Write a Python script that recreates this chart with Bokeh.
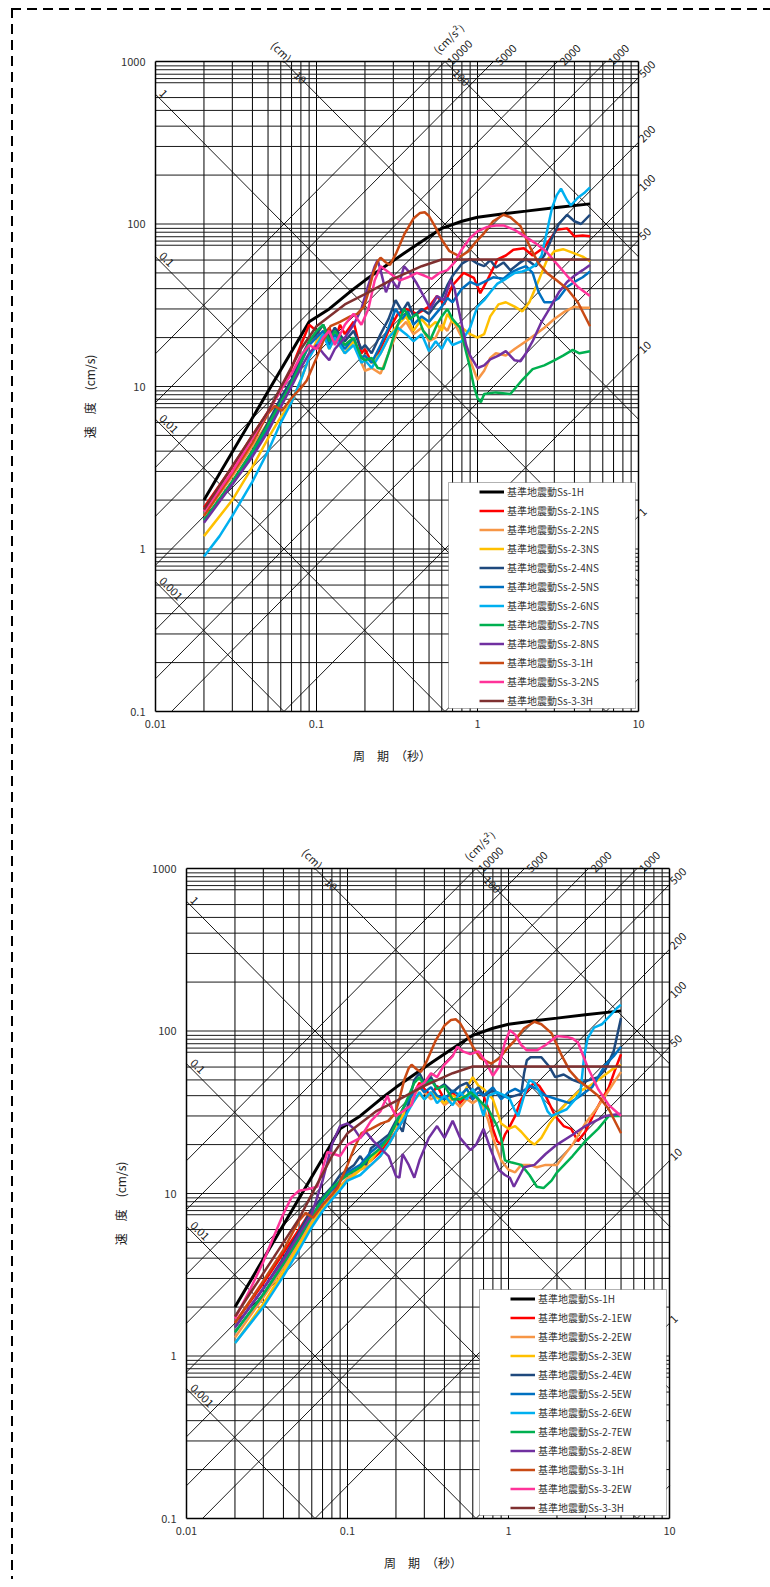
import math
from bokeh.plotting import figure
from bokeh.models import (Range1d, FixedTicker, Label, Legend, LegendItem, BoxAnnotation, Div)
from bokeh.embed import file_html
from bokeh.resources import INLINE

FONT = "Noto Sans CJK JP"

# ---------------- axes / grid data ----------------
period_ticks = [0.01, 0.1, 1, 10]
period_tick_labels = ["0.01", "0.1", "1", "10"]
velocity_ticks = [0.1, 1, 10, 100, 1000]
velocity_tick_labels = ["0.1", "1", "10", "100", "1000"]
grid_multipliers_x = [1, 2, 3, 4, 5, 6, 7, 8, 9]
grid_multipliers_y = [1, 2, 3, 4, 5, 6, 7.4, 7.85, 8.35, 8.9, 9.4]
displacement_values = [0.001, 0.01, 0.1, 1, 10, 100]          # cm
displacement_left_labels = [0.001, 0.01, 0.1, 1]
displacement_top_labels = [10, 100]
acceleration_values = [0.1, 1, 10, 50, 100, 200, 500, 1000, 2000, 5000, 10000]  # cm/s2
acceleration_top_labels = [10000, 5000, 2000, 1000]
acceleration_right_labels = [500, 200, 100, 50, 10, 1]

# ---------------- series (common to both directions) ----------------
ss1h_T = [0.02, 0.09, 0.12, 0.16, 0.2, 0.26, 0.35, 0.45, 0.6, 0.8, 1.0, 1.5, 2.0, 3.0, 5.0]
ss1h_V = [2.0, 25, 30, 38, 45, 54, 66, 78, 94, 104, 110, 116, 120, 126, 133]

ss31h_T = [0.02, 0.03, 0.04, 0.05, 0.055, 0.061, 0.07, 0.08, 0.087, 0.1, 0.11, 0.122, 0.14, 0.162, 0.18,
           0.197, 0.21, 0.225, 0.24, 0.25, 0.27, 0.286, 0.31, 0.35, 0.4, 0.44, 0.47, 0.5, 0.55, 0.6,
           0.67, 0.78, 0.88, 0.98, 1.1, 1.25, 1.45, 1.6, 1.85, 2.15, 2.4, 2.7, 3.1, 3.6, 4.2, 5.0]
ss31h_V = [1.6, 2.9, 4.5, 6.8, 7.6, 7.1, 8.5, 9.8, 10.9, 15, 19, 23.5, 25, 27, 28,
           31, 38, 50, 59, 62, 58, 56, 65, 86, 108, 117, 118, 112, 95, 80,
           68, 63, 68, 78, 88, 104, 114, 110, 97, 70, 57, 50, 45, 40, 33, 23.5]

ss33h_T = [0.02, 0.05, 0.08, 0.1, 0.15, 0.2, 0.3, 0.45, 0.6, 5.0]
ss33h_V = [1.75, 7, 17, 23.5, 32, 37, 46, 55, 60.5, 60.5]

# ---------------- NS series ----------------
ns21_T = [0.02, 0.03, 0.04, 0.05, 0.06, 0.07, 0.08, 0.09, 0.1, 0.11, 0.12, 0.13, 0.14, 0.15, 0.17, 0.19, 0.2,
          0.22, 0.25, 0.28, 0.32, 0.36, 0.42, 0.5, 0.56, 0.62, 0.7, 0.82, 0.95, 1.04, 1.15, 1.33, 1.5, 1.67,
          1.94, 2.2, 2.6, 3.1, 3.6, 4.0, 4.5, 5.0]
ns21_V = [1.8, 3.2, 5.0, 7.0, 9.5, 13, 18, 24, 22, 20, 23, 19, 24, 21, 25, 16, 17,
          14, 17, 22, 28, 30, 28, 31, 36, 32, 42, 50, 46.6, 37.5, 45, 60.5, 64, 69.5,
          71, 64, 72, 92, 94, 84, 85, 84]

ns22_T = [0.02, 0.03, 0.04, 0.05, 0.06, 0.07, 0.08, 0.09, 0.1, 0.11, 0.12, 0.13, 0.15, 0.17, 0.19, 0.2, 0.22,
          0.25, 0.28, 0.32, 0.36, 0.4, 0.45, 0.5, 0.55, 0.6, 0.65, 0.7, 0.8, 0.9, 1.0, 1.1, 1.2, 1.3, 1.5,
          1.7, 2.0, 2.3, 2.6, 3.0, 3.5, 4.0, 4.5, 5.0]
ns22_V = [1.6, 2.8, 4.3, 6.0, 8.0, 10.5, 14, 18, 21, 24, 19, 22, 18, 20, 14, 12.5, 13,
          12, 16, 22, 25, 21, 23, 19, 20, 24, 22, 26, 20, 14.5, 11, 12.5, 15, 16, 15.5,
          17, 19, 21, 23, 26, 29, 31, 30.5, 30.5]

ns23_T = [0.02, 0.03, 0.04, 0.05, 0.06, 0.07, 0.08, 0.09, 0.1, 0.11, 0.12, 0.13, 0.15, 0.17, 0.19, 0.2, 0.22,
          0.25, 0.28, 0.32, 0.36, 0.4, 0.45, 0.5, 0.55, 0.6, 0.65, 0.7, 0.8, 0.9, 1.0, 1.1, 1.2, 1.35, 1.5,
          1.7, 1.9, 2.1, 2.4, 2.7, 3.0, 3.4, 4.0, 4.5, 5.0]
ns23_V = [1.2, 2.0, 3.2, 4.8, 6.5, 8.0, 11, 15, 19, 22, 17, 20, 16, 19, 15, 15.5, 14,
          16, 20, 24, 27, 22, 26, 23, 25, 22, 28, 25, 23, 21, 20, 21, 27, 32, 33,
          31, 29, 33, 45, 60, 68, 70, 66, 63, 59]

ns24_T = [0.02, 0.03, 0.04, 0.05, 0.06, 0.07, 0.08, 0.09, 0.1, 0.11, 0.12, 0.13, 0.15, 0.17, 0.19, 0.2, 0.22,
          0.25, 0.28, 0.31, 0.34, 0.37, 0.4, 0.45, 0.5, 0.55, 0.6, 0.65, 0.7, 0.8, 0.9, 1.0, 1.1, 1.2, 1.3,
          1.45, 1.6, 1.8, 2.0, 2.3, 2.6, 2.9, 3.2, 3.6, 4.0, 4.4, 5.0]
ns24_V = [1.5, 2.6, 4.0, 6.0, 8.5, 11, 15, 19, 21, 24, 20, 23, 19, 22, 17, 18, 16,
          21, 26, 34, 29, 33, 27, 30, 28, 32, 35, 42, 48, 57, 61, 57, 55, 60, 54,
          58, 52, 57, 61, 55, 64, 82, 100, 114, 104, 100, 114]

ns25_T = [0.02, 0.03, 0.04, 0.05, 0.06, 0.07, 0.08, 0.09, 0.1, 0.11, 0.12, 0.13, 0.15, 0.17, 0.19, 0.2, 0.22,
          0.25, 0.28, 0.31, 0.34, 0.37, 0.4, 0.45, 0.5, 0.55, 0.6, 0.65, 0.7, 0.8, 0.9, 1.0, 1.1, 1.25, 1.45,
          1.6, 1.8, 2.0, 2.2, 2.4, 2.6, 2.9, 3.2, 3.6, 4.0, 4.5, 5.0]
ns25_V = [1.5, 2.5, 3.8, 5.5, 7.8, 10.5, 14, 18, 20, 22, 18, 21, 17, 20, 15, 15.5, 14,
          18, 23, 30, 26, 29, 24, 27, 25, 28, 31, 35, 33, 40, 44, 42, 44, 47, 46,
          50, 53, 55, 50, 38, 33, 33, 35, 41, 44, 47, 51]

ns26_T = [0.02, 0.025, 0.03, 0.04, 0.05, 0.06, 0.07, 0.08, 0.09, 0.1, 0.11, 0.12, 0.13, 0.15, 0.17, 0.19, 0.2,
          0.22, 0.25, 0.28, 0.32, 0.36, 0.4, 0.45, 0.5, 0.55, 0.6, 0.65, 0.7, 0.8, 0.9, 0.95, 1.0, 1.1, 1.2,
          1.33, 1.5, 1.7, 1.9, 2.1, 2.3, 2.5, 2.7, 2.9, 3.1, 3.3, 3.6, 3.8, 4.2, 4.6, 5.0]
ns26_V = [0.9, 1.2, 1.6, 2.6, 4.0, 6.0, 8.0, 11, 15, 18, 21, 17, 20, 16, 18, 14, 14.5,
          13, 16, 20, 23, 21, 19, 21, 16.5, 19, 17, 20, 18, 19, 23, 27, 31, 34, 38,
          43, 46, 50, 51, 53, 56, 64, 90, 125, 150, 165, 140, 130, 145, 155, 168]

ns27_T = [0.02, 0.03, 0.04, 0.05, 0.06, 0.07, 0.08, 0.09, 0.1, 0.11, 0.12, 0.13, 0.15, 0.17, 0.19, 0.2, 0.22,
          0.24, 0.26, 0.28, 0.3, 0.32, 0.35, 0.38, 0.42, 0.46, 0.51, 0.56, 0.6, 0.65, 0.7, 0.78, 0.84, 0.9,
          0.95, 1.0, 1.05, 1.1, 1.3, 1.6, 1.9, 2.2, 2.6, 3.0, 3.4, 3.9, 4.3, 5.0]
ns27_V = [1.5, 2.6, 4.0, 5.8, 8.0, 10.5, 14, 19, 22, 24, 19, 22, 18, 20, 15, 14.5, 15,
          13, 12.8, 16, 20, 24, 30, 26, 28, 22, 19.5, 24, 27, 30, 26, 23, 17, 13,
          10, 8.5, 8.0, 9, 9.2, 9, 11, 12.8, 13.5, 14.5, 15.5, 16.8, 16, 16.5]

ns28_T = [0.02, 0.03, 0.04, 0.05, 0.06, 0.07, 0.08, 0.09, 0.1, 0.11, 0.12, 0.13, 0.15, 0.17, 0.19, 0.21, 0.23,
          0.24, 0.25, 0.27, 0.29, 0.32, 0.35, 0.38, 0.42, 0.47, 0.51, 0.56, 0.62, 0.68, 0.72, 0.78, 0.85, 0.9,
          1.0, 1.1, 1.2, 1.35, 1.5, 1.7, 1.85, 2.0, 2.2, 2.5, 2.85, 3.2, 3.6, 4.0, 4.5, 5.0]
ns28_V = [1.45, 2.5, 3.7, 5.3, 7.5, 10, 13, 16, 18, 16, 14.5, 17, 20, 24, 30, 42, 55,
          60, 52, 38, 46, 40, 55, 50, 43, 35, 30, 36, 34, 45, 40, 27, 18, 15.5,
          13, 13.5, 14.7, 15.5, 16.5, 14.5, 14.3, 16, 19, 25, 31, 38, 44, 48, 52, 56]

ns32_T = [0.02, 0.03, 0.04, 0.05, 0.06, 0.07, 0.08, 0.09, 0.1, 0.11, 0.12, 0.13, 0.15, 0.17, 0.19, 0.21, 0.23,
          0.25, 0.27, 0.3, 0.33, 0.37, 0.42, 0.47, 0.52, 0.58, 0.65, 0.72, 0.8, 0.9, 1.0, 1.15, 1.3, 1.45,
          1.7, 2.0, 2.3, 2.7, 3.1, 3.6, 4.2, 5.0]
ns32_V = [1.7, 3.0, 4.8, 7.0, 9.5, 12, 15.5, 18, 17, 20, 22, 18, 24, 28, 24, 30, 45,
          55, 52, 48, 45, 47, 50, 48, 46, 50, 52, 58, 70, 82, 90, 96, 98, 98,
          92, 83, 76, 67, 57, 48, 41, 36]

# ---------------- EW series ----------------
ew21_T = [0.02, 0.03, 0.04, 0.05, 0.06, 0.07, 0.08, 0.09, 0.1, 0.11, 0.12, 0.14, 0.16, 0.18, 0.2, 0.22, 0.24,
          0.26, 0.28, 0.3, 0.33, 0.36, 0.4, 0.45, 0.5, 0.55, 0.6, 0.65, 0.7, 0.75, 0.8, 0.85, 0.9, 0.95, 1.0,
          1.1, 1.2, 1.35, 1.45, 1.55, 1.7, 1.95, 2.2, 2.45, 2.7, 3.0, 3.4, 3.8, 4.2, 4.6, 5.0]
ew21_V = [1.6, 2.8, 4.3, 6.0, 8.0, 9.5, 10, 12, 14, 13, 14.5, 16, 18, 21, 24, 28, 35,
          42, 48, 44, 40, 46, 38, 42, 36, 40, 38, 42, 40, 33, 25, 21, 20, 23, 25,
          30, 38, 45, 48, 46, 40, 30, 26, 25, 21, 24, 31, 38, 45, 58, 72]

ew22_T = [0.02, 0.03, 0.04, 0.05, 0.06, 0.07, 0.08, 0.09, 0.1, 0.12, 0.14, 0.16, 0.18, 0.2, 0.22, 0.25, 0.28,
          0.3, 0.33, 0.36, 0.4, 0.45, 0.5, 0.55, 0.6, 0.65, 0.7, 0.75, 0.8, 0.9, 1.0, 1.1, 1.2, 1.35, 1.5,
          1.7, 2.0, 2.2, 2.5, 3.0, 3.5, 4.0, 4.5, 5.0]
ew22_V = [1.3, 2.3, 3.5, 5.0, 6.8, 8.5, 10, 11, 12.5, 14, 15, 17, 20, 24, 30, 38, 45,
          42, 38, 40, 35, 38, 34, 38, 36, 38, 34, 28, 22, 16, 14, 13.5, 15, 15, 14.5,
          15, 15, 17, 20, 27, 33, 40, 48, 56]

ew23_T = [0.02, 0.03, 0.04, 0.05, 0.06, 0.07, 0.08, 0.09, 0.1, 0.12, 0.14, 0.16, 0.18, 0.2, 0.22, 0.25, 0.28,
          0.3, 0.33, 0.36, 0.4, 0.45, 0.5, 0.55, 0.6, 0.65, 0.7, 0.8, 0.9, 1.0, 1.1, 1.2, 1.35, 1.45, 1.6,
          1.8, 2.0, 2.3, 2.7, 3.2, 3.8, 4.4, 5.0]
ew23_V = [1.2, 2.1, 3.3, 4.8, 6.5, 8.0, 9.5, 11, 12, 14, 16, 19, 22, 26, 30, 36, 41,
          38, 42, 39, 36, 40, 38, 45, 52, 46, 44, 38, 27, 25, 26, 24, 21, 20, 22,
          27, 31, 36, 42, 46, 52, 58, 62]

ew24_T = [0.02, 0.03, 0.04, 0.05, 0.06, 0.07, 0.08, 0.09, 0.1, 0.11, 0.12, 0.13, 0.14, 0.16, 0.18, 0.2, 0.22,
          0.24, 0.26, 0.28, 0.3, 0.33, 0.36, 0.4, 0.45, 0.5, 0.55, 0.6, 0.65, 0.7, 0.8, 0.9, 1.0, 1.1, 1.2,
          1.25, 1.3, 1.37, 1.6, 1.8, 1.95, 2.2, 2.5, 2.8, 3.2, 3.6, 4.0, 4.5, 5.0]
ew24_V = [1.5, 2.6, 4.0, 5.8, 8.0, 9.5, 11, 13, 14, 15, 17, 15, 19, 21, 23, 28, 24,
          36, 50, 55, 48, 52, 44, 47, 42, 46, 48, 42, 45, 40, 43, 40, 39, 40, 41,
          55, 66, 69, 69, 60, 52, 54, 50, 48, 50, 52, 58, 75, 120]

ew25_T = [0.02, 0.03, 0.04, 0.05, 0.06, 0.07, 0.08, 0.09, 0.1, 0.12, 0.14, 0.16, 0.18, 0.2, 0.22, 0.25, 0.28,
          0.3, 0.33, 0.36, 0.4, 0.45, 0.5, 0.55, 0.6, 0.65, 0.7, 0.8, 0.9, 1.0, 1.1, 1.2, 1.37, 1.5, 1.7,
          2.0, 2.4, 2.8, 3.3, 4.0, 4.5, 5.0]
ew25_V = [1.4, 2.4, 3.7, 5.3, 7.2, 9.0, 10.5, 12, 13.5, 15, 18, 20, 22, 27, 33, 40, 46,
          42, 45, 40, 38, 43, 40, 44, 38, 42, 40, 45, 38, 42, 44, 42, 46, 44, 40,
          38, 36, 40, 45, 62, 70, 80]

ew26_T = [0.02, 0.03, 0.04, 0.05, 0.06, 0.07, 0.08, 0.09, 0.1, 0.12, 0.14, 0.16, 0.18, 0.2, 0.22, 0.25, 0.28,
          0.3, 0.33, 0.36, 0.4, 0.45, 0.5, 0.55, 0.6, 0.65, 0.7, 0.75, 0.85, 0.95, 1.02, 1.1, 1.15, 1.25, 1.35,
          1.45, 1.6, 1.75, 1.85, 2.0, 2.3, 2.6, 2.8, 2.95, 3.1, 3.4, 3.8, 4.3, 4.7, 5.0]
ew26_V = [1.2, 2.0, 3.1, 4.5, 6.2, 7.8, 9.2, 10.5, 12, 13, 15, 17, 20, 24, 28, 35, 42,
          38, 42, 36, 40, 35, 42, 38, 44, 38, 30, 40, 42, 40, 38, 32, 30, 40, 50,
          48, 40, 32, 30, 31, 33, 38, 42, 70, 90, 105, 110, 125, 138, 145]

ew27_T = [0.02, 0.03, 0.04, 0.05, 0.06, 0.07, 0.08, 0.09, 0.1, 0.12, 0.14, 0.16, 0.18, 0.2, 0.22, 0.24, 0.26,
          0.28, 0.3, 0.33, 0.36, 0.4, 0.45, 0.5, 0.55, 0.58, 0.65, 0.75, 0.85, 0.9, 0.95, 1.05, 1.2, 1.35,
          1.5, 1.65, 1.85, 2.0, 2.5, 3.0, 3.6, 4.2, 5.0]
ew27_V = [1.4, 2.4, 3.7, 5.3, 7.3, 9.2, 10.8, 12, 13, 14.5, 17, 19, 22, 27, 33, 40, 48,
          52, 46, 50, 44, 46, 38, 38, 40, 42, 38, 33, 26, 22, 16, 15.5, 15, 13,
          11, 10.8, 12, 13.5, 17, 21, 25, 30, 30]

ew28_T = [0.02, 0.03, 0.04, 0.05, 0.06, 0.07, 0.08, 0.09, 0.1, 0.11, 0.12, 0.13, 0.145, 0.16, 0.18, 0.2, 0.21,
          0.22, 0.24, 0.26, 0.28, 0.32, 0.36, 0.4, 0.45, 0.5, 0.58, 0.63, 0.7, 0.77, 0.87, 0.95, 1.02, 1.08,
          1.25, 1.45, 1.7, 2.0, 2.5, 3.0, 4.0, 5.0]
ew28_V = [1.5, 2.6, 3.9, 5.6, 7.5, 12, 20, 26, 27, 25, 22, 24, 21, 19, 17, 12.8, 12.5,
          17.5, 15, 12.5, 16, 22, 26, 22, 28, 22, 18.5, 20, 25, 19, 14, 13, 12.5, 11,
          14.5, 15, 17.5, 20, 23, 26, 30, 31]

ew32_T = [0.02, 0.025, 0.03, 0.035, 0.04, 0.045, 0.05, 0.056, 0.065, 0.075, 0.09, 0.1, 0.12, 0.14, 0.16,
          0.177, 0.19, 0.2, 0.22, 0.25, 0.27, 0.3, 0.33, 0.36, 0.4, 0.45, 0.48, 0.52, 0.58, 0.65, 0.72, 0.8,
          0.87, 0.95, 1.02, 1.1, 1.2, 1.3, 1.5, 1.7, 2.0, 2.3, 2.5, 2.7, 3.1, 3.6, 4.2, 5.0]
ew32_V = [1.7, 2.6, 3.8, 5.5, 7.5, 9.5, 10.4, 10.6, 11, 18, 17, 20, 22, 28, 32,
          40, 33, 30, 32, 35, 45, 48, 55, 52, 62, 70, 80, 75, 72, 75, 65, 53,
          60, 85, 101, 95, 82, 76, 76, 82, 93, 92, 90, 85, 60, 44, 35, 30]

# ---------------- legend names / colors ----------------
names_ns = ["基準地震動Ss-1H", "基準地震動Ss-2-1NS", "基準地震動Ss-2-2NS", "基準地震動Ss-2-3NS",
            "基準地震動Ss-2-4NS", "基準地震動Ss-2-5NS", "基準地震動Ss-2-6NS", "基準地震動Ss-2-7NS",
            "基準地震動Ss-2-8NS", "基準地震動Ss-3-1H", "基準地震動Ss-3-2NS", "基準地震動Ss-3-3H"]
names_ew = ["基準地震動Ss-1H", "基準地震動Ss-2-1EW", "基準地震動Ss-2-2EW", "基準地震動Ss-2-3EW",
            "基準地震動Ss-2-4EW", "基準地震動Ss-2-5EW", "基準地震動Ss-2-6EW", "基準地震動Ss-2-7EW",
            "基準地震動Ss-2-8EW", "基準地震動Ss-3-1H", "基準地震動Ss-3-2EW", "基準地震動Ss-3-3H"]
colors = ["#000000", "#FF0000", "#F79646", "#FFC000", "#1F497D", "#0070C0",
          "#00B0F0", "#00B050", "#7030A0", "#C94A14", "#FF3399", "#7F3030"]

series_ns = [(ss1h_T, ss1h_V), (ns21_T, ns21_V), (ns22_T, ns22_V), (ns23_T, ns23_V), (ns24_T, ns24_V),
             (ns25_T, ns25_V), (ns26_T, ns26_V), (ns27_T, ns27_V), (ns28_T, ns28_V), (ss31h_T, ss31h_V),
             (ns32_T, ns32_V), (ss33h_T, ss33h_V)]
series_ew = [(ss1h_T, ss1h_V), (ew21_T, ew21_V), (ew22_T, ew22_V), (ew23_T, ew23_V), (ew24_T, ew24_V),
             (ew25_T, ew25_V), (ew26_T, ew26_V), (ew27_T, ew27_V), (ew28_T, ew28_V), (ss31h_T, ss31h_V),
             (ew32_T, ew32_V), (ss33h_T, ss33h_V)]

TWO_PI = 2 * math.pi
XMIN, XMAX, YMIN, YMAX = 0.01, 10.0, 0.1, 1000.0
CW, CH = 483, 650            # chart box size (px)
# frame extension around the chart box (px); left/bottom extensions centre the axis titles
EXT_L, EXT_B, EXT_R, EXT_T = 34, 56, 24, 36
DASH_V = "repeating-linear-gradient(to bottom, #000 0px, #000 10px, transparent 10px, transparent 16px)"
DASH_H = "repeating-linear-gradient(to right, #000 0px, #000 10px, transparent 10px, transparent 16px)"


def fmt(v):
    return "%g" % v


def px_T(px):
    return XMIN * 10 ** (px * 3.0 / CW)


def px_V(py):
    return YMAX * 10 ** (-py * 4.0 / CH)


def make_chart(series, names, b_left, b_top, fig_h, total_w):
    fw = EXT_L + CW + EXT_R
    fh = EXT_B + CH + EXT_T
    p = figure(x_axis_type="log", y_axis_type="log",
               x_range=Range1d(px_T(-EXT_L), px_T(CW + EXT_R)),
               y_range=Range1d(px_V(CH + EXT_B), px_V(-EXT_T)),
               frame_width=fw, frame_height=fh,
               min_border_left=b_left, min_border_right=total_w - b_left - fw,
               min_border_top=b_top, min_border_bottom=fig_h - b_top - fh,
               toolbar_location=None, output_backend="svg")
    p.border_fill_color = None
    p.background_fill_color = None
    p.outline_line_color = None
    p.xgrid.visible = False
    p.ygrid.visible = False

    # axes
    p.xaxis.ticker = FixedTicker(ticks=period_ticks, minor_ticks=[])
    p.yaxis.ticker = FixedTicker(ticks=velocity_ticks, minor_ticks=[])
    p.xaxis.major_label_overrides = {t: s for t, s in zip(period_ticks, period_tick_labels)}
    p.yaxis.major_label_overrides = {t: s for t, s in zip(velocity_ticks, velocity_tick_labels)}
    for ax in (p.xaxis[0], p.yaxis[0]):
        ax.axis_line_color = None
        ax.major_tick_line_color = None
        ax.minor_tick_line_color = None
        ax.major_tick_out = 0
        ax.major_tick_in = 0
        ax.minor_tick_out = 0
        ax.minor_tick_in = 0
        ax.major_label_text_font = FONT
        ax.major_label_text_font_size = "11px"
        ax.major_label_text_color = "#333333"
        ax.axis_label_text_font = FONT
        ax.axis_label_text_font_size = "12px"
        ax.axis_label_text_font_style = "normal"
        ax.axis_label_text_color = "#222222"
    p.xaxis.major_label_standoff = 8 - EXT_B
    p.yaxis.major_label_standoff = 10 - EXT_L
    p.xaxis.axis_label = "周\u3000期\u3000（秒）"
    p.xaxis.axis_label_standoff = 16
    p.yaxis.axis_label = "速\u3000度\u3000(cm/s)"
    p.yaxis.axis_label_standoff = 20
    p.yaxis.major_label_orientation = "horizontal"

    # white chart area
    p.quad(left=[XMIN], right=[XMAX], bottom=[YMIN], top=[YMAX], fill_color="white", line_color=None)

    # log grid
    xs = [m * 10.0 ** e for e in (-2, -1, 0) for m in grid_multipliers_x if m * 10.0 ** e > XMIN]
    ys = [m * 10.0 ** e for e in (-1, 0, 1, 2) for m in grid_multipliers_y if m * 10.0 ** e > YMIN]
    p.segment(x0=xs, x1=xs, y0=[YMIN] * len(xs), y1=[YMAX] * len(xs), line_color="#000000", line_width=1)
    p.segment(x0=[XMIN] * len(ys), x1=[XMAX] * len(ys), y0=ys, y1=ys, line_color="#1a1a1a", line_width=1)

    # tripartite diagonals (clipped to chart box)
    x0, x1, y0, y1 = [], [], [], []
    for d in displacement_values:
        lo, hi = max(XMIN, TWO_PI * d / YMAX), min(XMAX, TWO_PI * d / YMIN)
        if lo < hi:
            x0.append(lo); x1.append(hi); y0.append(TWO_PI * d / lo); y1.append(TWO_PI * d / hi)
    for a in acceleration_values:
        lo, hi = max(XMIN, TWO_PI * YMIN / a), min(XMAX, TWO_PI * YMAX / a)
        if lo < hi:
            x0.append(lo); x1.append(hi); y0.append(a * lo / TWO_PI); y1.append(a * hi / TWO_PI)
    p.segment(x0=x0, x1=x1, y0=y0, y1=y1, line_color="black", line_width=0.9)

    # chart box
    p.segment(x0=[XMIN, XMAX, XMIN, XMIN], x1=[XMIN, XMAX, XMAX, XMAX],
              y0=[YMIN, YMIN, YMIN, YMAX], y1=[YMAX, YMAX, YMIN, YMAX],
              line_color="black", line_width=1.5)

    lab = dict(text_font=FONT, text_font_size="11px", text_color="#222222")
    for d in displacement_left_labels:
        p.add_layout(Label(x=XMIN, y=TWO_PI * d / XMIN, text=fmt(d), angle=-math.pi / 4,
                           text_align="left", text_baseline="bottom", x_offset=3, **lab))
    k = 10 ** 0.1
    for d in displacement_top_labels:
        t_top = TWO_PI * d / YMAX
        p.add_layout(Label(x=t_top * k, y=YMAX / k, text=fmt(d), angle=-math.pi / 4,
                           text_align="center", text_baseline="middle", **lab))
    t10 = TWO_PI * displacement_top_labels[0] / YMAX
    p.add_layout(Label(x=t10, y=YMAX, text="(cm)", angle=-math.pi / 4, text_align="right",
                       text_baseline="middle", x_offset=6, y_offset=2, **lab))
    for a in acceleration_top_labels:
        t_top = TWO_PI * YMAX / a
        p.add_layout(Label(x=t_top, y=YMAX, text=fmt(a), angle=math.pi / 4, text_align="left",
                           text_baseline="middle", x_offset=4, y_offset=-2, **lab))
    a0 = acceleration_top_labels[0]
    p.add_layout(Label(x=TWO_PI * YMAX / a0, y=YMAX, text="(cm/s²)", angle=math.pi / 4,
                       text_align="left", text_baseline="middle", x_offset=-10, y_offset=10, **lab))
    for a in acceleration_right_labels:
        p.add_layout(Label(x=XMAX, y=a * XMAX / TWO_PI, text=fmt(a), angle=math.pi / 4,
                           text_align="left", text_baseline="middle", x_offset=2, y_offset=2, **lab))

    # spectra
    items = []
    for (T, V), name, col in zip(series, names, colors):
        lw = 3 if col == "#000000" else 2.5
        r = p.line(T, V, line_color=col, line_width=lw)
        items.append(LegendItem(label=name, renderers=[r]))

    # legend
    box = BoxAnnotation(left=px_T(293), right=px_T(480), top=px_V(421), bottom=px_V(647),
                        fill_color="white", fill_alpha=1.0, line_color="black", line_width=1)
    p.add_layout(box)
    leg = Legend(items=items, location=(EXT_L + 324, EXT_B + 3), padding=0, margin=0, spacing=4,
                 glyph_height=15, glyph_width=25, label_height=15, label_standoff=3,
                 label_text_font=FONT, label_text_font_size="10px", label_text_color="#333333",
                 border_line_alpha=0, background_fill_alpha=0)
    p.add_layout(leg)
    return p


# dashed page border: transparent overlay drawn above the charts
PAGE_W, PAGE_H = 770, 1579
page_rule = Div(text="", width=PAGE_W, height=PAGE_H, margin=0,
                styles={"position": "absolute", "left": "0px", "top": "0px", "z-index": "10",
                        "pointer-events": "none",
                        "background-image": DASH_H + ", " + DASH_V,
                        "background-size": "%dpx 2px, 2px %dpx" % (PAGE_W - 11, PAGE_H - 8),
                        "background-position": "11px 8px, 11px 8px",
                        "background-repeat": "no-repeat, no-repeat"})

# top chart: chart box at (155, 61); bottom chart: chart box at (186, 868)
H1 = 790
H2 = 789
p1 = make_chart(series_ns, names_ns, 155 - EXT_L, 61 - EXT_T, H1, 770)
p2 = make_chart(series_ew, names_ew, 186 - EXT_L, 868 - H1 - EXT_T, H2, 770)

open("out.html", "w").write(file_html([page_rule, p1, p2], INLINE))
